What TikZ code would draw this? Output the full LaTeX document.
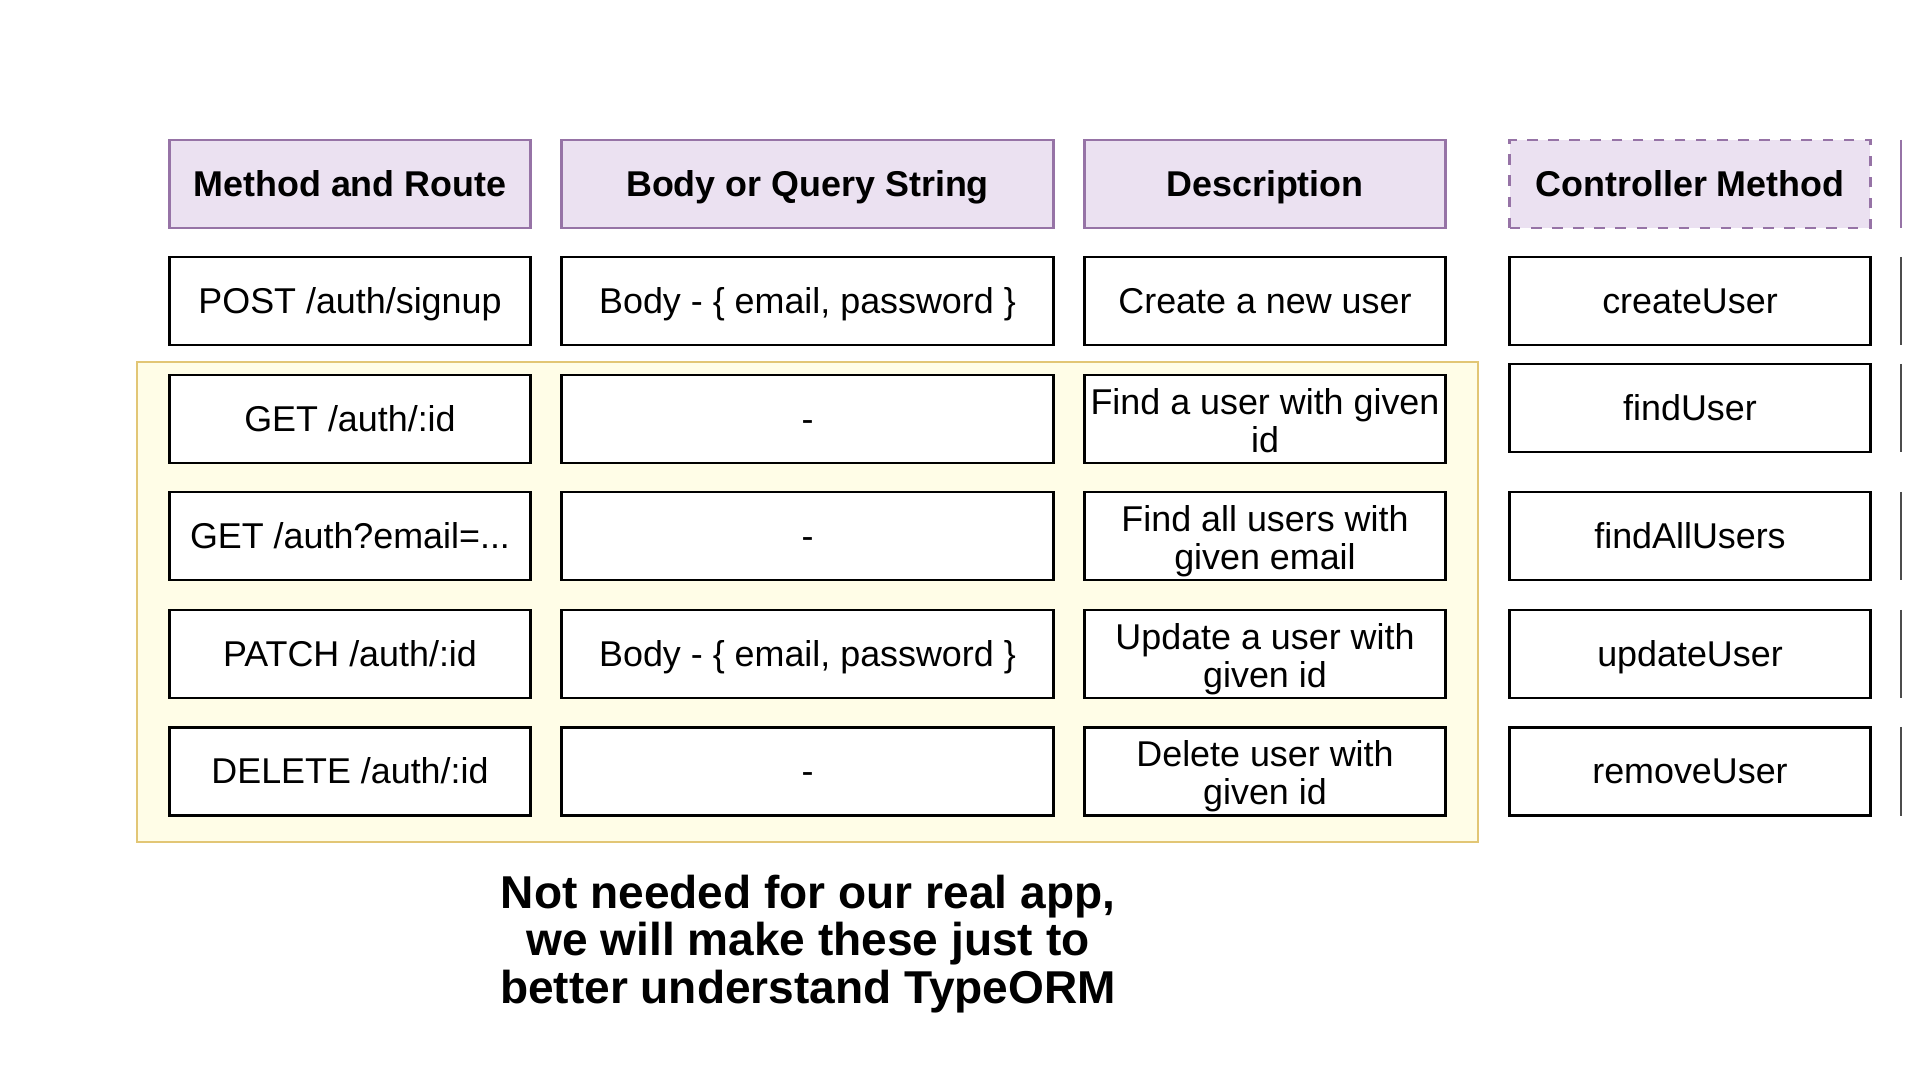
\documentclass[tikz,border=0pt]{standalone}
\usepackage{fontspec}
\setmainfont{Liberation Sans}

\definecolor{headfill}{HTML}{EBE1F1}
\definecolor{headline}{HTML}{9673A6}
\definecolor{notefill}{HTML}{FFFDE7}
\definecolor{noteline}{HTML}{E2C675}

% line boxes of one text line, as the drawing tool centres it
\newcommand{\lbox}{\rule[-0.212em]{0pt}{1.117em}}
\newcommand{\lboxtop}{\rule[-0.212em]{0pt}{1.217em}}

\tikzset{
	cell/.style={draw=black, line width=0.8pt, fill=white, minimum width=3.6cm,
		minimum height=0.88cm, inner sep=0pt, align=center,
		font=\fontsize{10.2}{10.8}\selectfont,
		execute at begin node={\lineskiplimit=-20pt\relax\lbox}},
	wide/.style={minimum width=4.91cm},
	head/.style={cell, fill=headfill, draw=headline,
		font=\fontsize{10.2}{10.8}\selectfont\bfseries},
	edge/.style={line width=0.45pt, draw=black!70}
}

\begin{document}
\begin{tikzpicture}[x=0.01cm, y=-0.01cm]

	\useasboundingbox[fill=white] (0,0) rectangle (1920,1080);

	% Yellow group
	\draw[fill=notefill, draw=noteline, line width=0.8pt] (137,362) rectangle (1478,842);

	% Header row
	\node[head] (hroute) at (350,184) {Method and Route};
	\node[head, wide] (hbody) at (807.5,184) {Body or Query String};
	\node[head] (hdesc) at (1265,184) {Description};
	\node[head, dashed] (hctrl) at (1690,184) {Controller Method};

	% Routes
	\node[cell] (rsignup) at (350,301) {POST /auth/signup};
	\node[cell] (rfind) at (350,419) {GET /auth/:id};
	\node[cell] (rfindall) at (350,536) {GET /auth?email=...};
	\node[cell] (rupdate) at (350,654) {PATCH /auth/:id};
	\node[cell] (rremove) at (350,771.5) {DELETE /auth/:id};

	% Body or query string
	\node[cell, wide] (bsignup) at (807.5,301) {Body - \{ email, password \}};
	\node[cell, wide] (bfind) at (807.5,419) {-};
	\node[cell, wide] (bfindall) at (807.5,536) {-};
	\node[cell, wide] (bupdate) at (807.5,654) {Body - \{ email, password \}};
	\node[cell, wide] (bremove) at (807.5,771.5) {-};

	% Descriptions
	\node[cell] (dsignup) at (1265,301) {Create a new user};
	\node[cell] (dfind) at (1265,419) {\lboxtop Find a user with given\\\lbox id};
	\node[cell] (dfindall) at (1265,536) {\lboxtop Find all users with\\\lbox given email};
	\node[cell] (dupdate) at (1265,654) {\lboxtop Update a user with\\\lbox given id};
	\node[cell] (dremove) at (1265,771.5) {\lboxtop Delete user with\\\lbox given id};

	% Controller methods
	\node[cell] (csignup) at (1690,301) {createUser};
	\node[cell] (cfind) at (1690,408) {findUser};
	\node[cell] (cfindall) at (1690,536) {findAllUsers};
	\node[cell] (cupdate) at (1690,654) {updateUser};
	\node[cell] (cremove) at (1690,771.5) {removeUser};

	% Cut-off column at the right edge
	\draw[draw=headline, line width=0.45pt] (1901,140) -- (1901,228);
	\draw[edge] (1901,257) -- (1901,345);
	\draw[edge] (1901,364) -- (1901,452);
	\draw[edge] (1901,492) -- (1901,580);
	\draw[edge] (1901,610) -- (1901,698);
	\draw[edge] (1901,727) -- (1901,816);

	% Note
	\node[align=center, inner sep=0pt, font=\fontsize{13.1}{13.4}\selectfont\bfseries] (note) at (808,944)
		{Not needed for our real app,\\we will make these just to\\better understand TypeORM};

\end{tikzpicture}
\end{document}
